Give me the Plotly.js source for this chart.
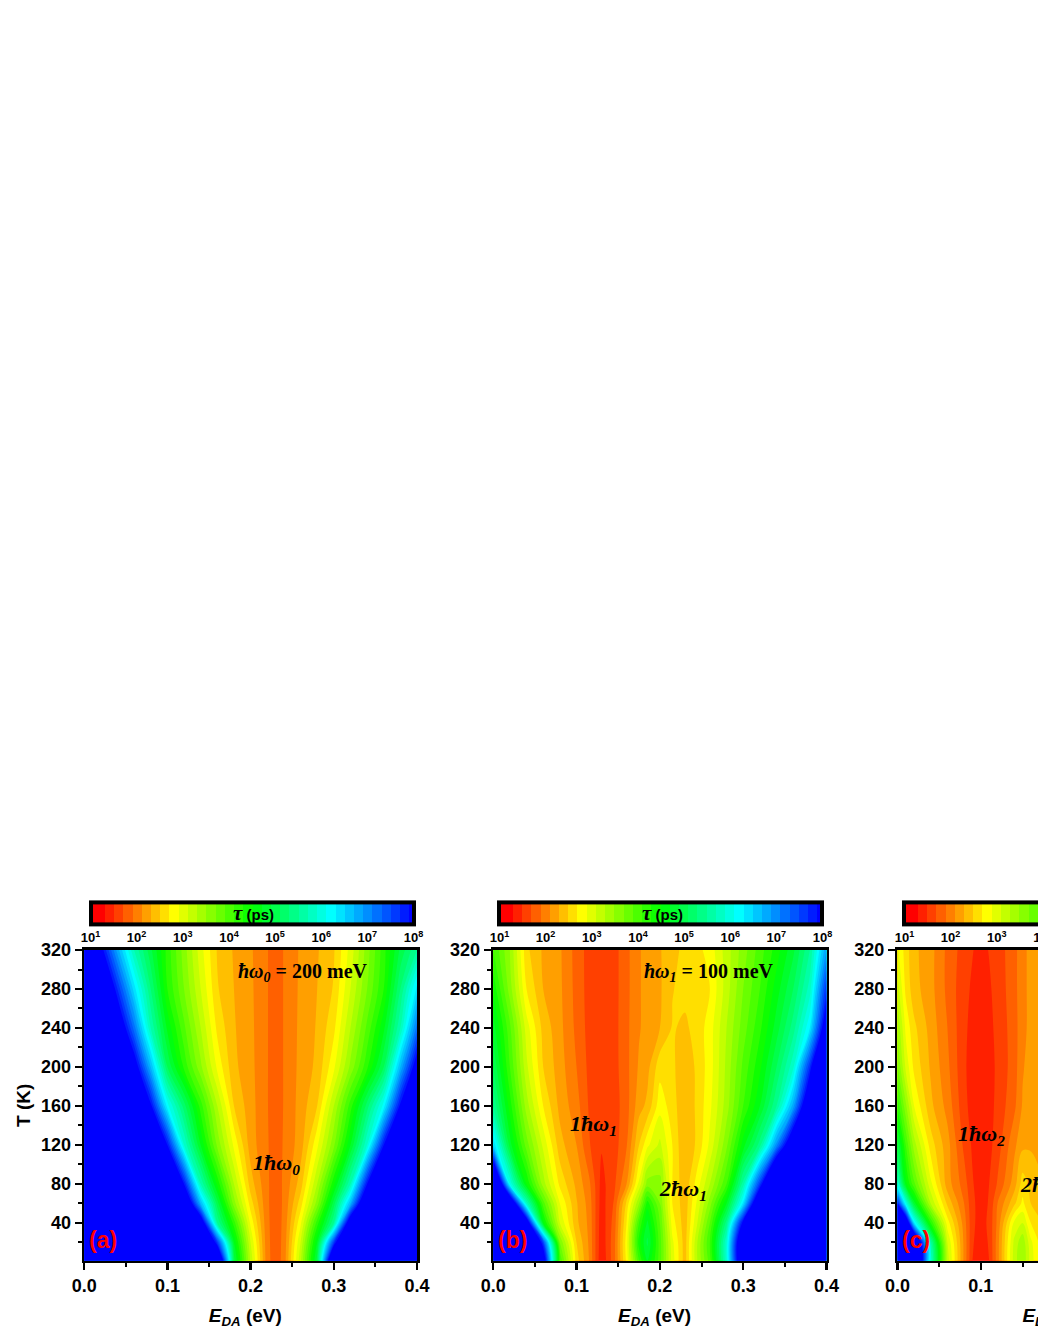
<!DOCTYPE html>
<html><head><meta charset="utf-8">
<script src="https://cdn.plot.ly/plotly-3.0.1.min.js"></script>
<style>html,body{margin:0;padding:0;background:#fff;overflow:hidden;width:1038px;height:1343px}</style>
</head><body><div id="chart"></div>
<script>
// Shared temperature rows (K)
const temps = [1,20,40,60,80,120,160,200,240,280,320];
const levelTicks = [1,2,3,4,5,6,7,8];
const levelLabels = ['10<sup>1</sup>','10<sup>2</sup>','10<sup>3</sup>','10<sup>4</sup>','10<sup>5</sup>','10<sup>6</sup>','10<sup>7</sup>','10<sup>8</sup>'];

// Panel (a): log10(tau/ps)
const energyA = [0,.02,.04,.06,.08,.10,.12,.14,.16,.18,.20,.22,.23,.24,.26,.28,.30,.32,.34,.36,.38,.40];
const logTauA = [
[10,10,10,10,10,10,10,10,9.4,4.9,3.15,1.86,1.7,1.86,3.15,4.9,9.4,10,10,10,10,10],
[10,10,10,10,10,10,10,10,7.5,4.6,3.0,1.85,1.7,1.85,3.0,4.6,7.5,10,10,10,10,10],
[10,10,10,10,10,10,10,8.5,5.4,4.1,2.75,1.84,1.7,1.84,2.75,4.1,5.4,8.5,10,10,10,10],
[10,10,10,10,10,10,9,6.6,4.9,3.5,2.5,1.83,1.7,1.83,2.5,3.5,4.9,6.6,9,10,10,10],
[10,10,10,10,10,9.5,7.8,5.6,4.35,3.2,2.3,1.83,1.7,1.83,2.3,3.2,4.35,5.6,7.8,9.5,10,10],
[10,10,10,10,9.4,7.8,5.8,4.6,3.55,2.75,2.1,1.82,1.7,1.82,2.1,2.75,3.55,4.6,5.8,7.8,9.4,10],
[10,10,10,9.6,7.9,6.1,5.1,4.1,3.2,2.4,2.08,1.81,1.7,1.81,2.08,2.4,3.2,4.1,5.1,6.1,7.9,9.6],
[10,10,10,8.2,6.6,5.0,4.15,3.45,2.75,2.25,2.06,1.81,1.7,1.81,2.06,2.25,2.75,3.45,4.15,5.0,6.6,8.2],
[10,10,8.5,7.1,5.6,4.55,3.85,3.2,2.55,2.22,2.05,1.81,1.7,1.81,2.05,2.22,2.55,3.2,3.85,4.55,5.6,7.1],
[10,9.0,7.6,6.3,5.2,4.2,3.6,3.0,2.42,2.2,2.04,1.81,1.7,1.81,2.04,2.2,2.42,3.0,3.6,4.2,5.2,6.3],
[9.2,8,6.7,5.6,4.85,4.12,3.5,2.88,2.38,2.18,2.03,1.81,1.7,1.81,2.03,2.18,2.38,2.88,3.5,4.12,4.85,5.4]
];

// Panel (b)
const energyB = [0,.02,.04,.06,.08,.10,.115,.13,.145,.16,.175,.185,.20,.215,.23,.245,.26,.28,.30,.32,.34,.36,.38,.40];
const logTauB = [
[10,10,10,8.5,4.0,2.5,2.0,1.22,1.72,2.65,4.0,4.6,3.9,2.9,2.3,3.2,3.9,5.8,9,10,10,10,10,10],
[10,10,10,7.5,3.6,2.4,1.97,1.25,1.72,2.7,4.3,4.85,3.9,2.85,2.3,3.2,4.0,5.8,9,10,10,10,10,10],
[10,10,8.5,4.5,3.0,2.25,1.95,1.27,1.68,2.6,4.0,4.65,3.8,2.7,2.28,3.0,3.8,5.3,8,10,10,10,10,10],
[10,9,5.7,3.9,2.8,2.22,1.92,1.3,1.62,2.45,3.4,4.3,3.6,2.6,2.27,2.85,3.5,4.6,6.25,9,10,10,10,10],
[10,6.0,4.4,3.3,2.55,2.15,1.85,1.33,1.55,2.0,2.85,3.5,3.5,2.6,2.25,2.7,3.2,4.0,5.5,7.5,10,10,10,10],
[6.4,4.7,3.7,2.95,2.28,2.0,1.62,1.42,1.5,1.78,2.4,2.75,3.05,2.6,2.2,2.45,2.85,3.55,4.5,5.3,6.9,8.7,10,10],
[5.4,4.3,3.3,2.6,2.14,1.88,1.58,1.42,1.5,1.72,2.12,2.25,2.72,2.5,2.22,2.45,2.75,3.3,4.0,4.6,5.4,6.7,8.8,10],
[5.0,4.0,3.05,2.4,2.09,1.8,1.55,1.43,1.52,1.74,2.03,2.13,2.52,2.45,2.24,2.45,2.7,3.25,3.85,4.35,5.0,5.75,7.6,10],
[4.7,3.85,2.9,2.33,2.06,1.75,1.53,1.43,1.52,1.75,1.98,2.08,2.2,2.42,2.36,2.48,2.7,3.2,3.7,4.15,4.7,5.3,6.2,8.4],
[4.35,3.5,2.6,2.2,2.04,1.73,1.52,1.44,1.52,1.74,1.98,2.07,2.17,2.39,2.46,2.52,2.6,3.1,3.6,4.0,4.5,5.0,5.7,7.6],
[4.0,3.4,2.45,2.17,2.03,1.72,1.52,1.44,1.52,1.74,1.98,2.07,2.18,2.35,2.44,2.54,2.68,3.1,3.5,3.9,4.3,4.75,5.4,6.8]
];

// Panel (c): only the part inside the picture can be read
const energyC = [0,.01,.02,.04,.06,.08,.09,.10,.11,.12,.14,.15,.16,.18,.20];
const logTauC = [
[10,10,10,5.8,3.1,1.95,1.4,1.3,1.4,1.9,3.1,3.4,2.9,2.3,2.2],
[10,10,9.5,5.5,3.0,1.95,1.42,1.3,1.42,1.9,3.05,3.35,2.85,2.3,2.2],
[10,8.8,6.25,4.2,2.7,1.9,1.45,1.3,1.45,1.85,2.85,3.0,2.6,2.3,2.2],
[7.8,6.0,4.7,3.2,2.35,1.8,1.45,1.3,1.42,1.8,2.35,2.65,2.4,2.25,2.2],
[5.9,4.5,3.85,2.85,2.1,1.7,1.42,1.28,1.4,1.62,2.1,2.5,2.35,2.17,2.18],
[4.95,4.0,3.3,2.5,2.08,1.55,1.37,1.26,1.34,1.5,1.95,2.15,2.17,2.15,2.18],
[4.15,3.45,2.8,2.25,1.93,1.46,1.32,1.26,1.32,1.46,1.75,2.02,2.1,2.15,2.18],
[3.65,2.95,2.55,2.17,1.85,1.43,1.32,1.27,1.32,1.44,1.7,1.98,2.08,2.15,2.18],
[3.4,2.75,2.45,2.12,1.8,1.44,1.34,1.28,1.34,1.46,1.7,1.95,2.05,2.15,2.18],
[3.1,2.55,2.28,2.07,1.75,1.46,1.37,1.3,1.37,1.48,1.72,1.95,2.05,2.15,2.18],
[2.85,2.5,2.25,2.07,1.75,1.5,1.41,1.33,1.41,1.5,1.72,1.95,2.05,2.15,2.18]
];

const W = 1400, H = 1343;
const px = v => v / W, py = v => 1 - v / H;
const levelOffset = 0.1; // contour levels sit at odd tenths so the colour bar spans exactly 10^1 to 10^8
const scale = [[0,'#ff0000'],[1/35,'#ff0000'],[9/35,'#ffff00'],[17.5/35,'#00ff00'],[26/35,'#00ffff'],[1,'#0000ff']];
const panels = [
 {x:energyA, z:logTauA, l:84.2,  r:417, cb:90.5},
 {x:energyB, z:logTauB, l:493.2, r:826.5, cb:499.5},
 {x:energyC, z:logTauC, l:897.4, r:1231, cb:904.5}
];
const sans = '"Liberation Sans", Arial, sans-serif', serif = '"Liberation Serif", "Times New Roman", serif';

const traces = panels.map((p,i)=>({
  type:'contour', x:p.x, y:temps, z:p.z.map(r=>r.map(v=>v+levelOffset)), xaxis:i?'x'+(i+1):'x', yaxis:i?'y'+(i+1):'y',
  autocontour:false, contours:{start:1.1,end:7.9,size:0.2,coloring:'fill',showlines:false},
  line:{width:0}, colorscale:scale, hoverinfo:'skip',
  colorbar:{orientation:'h', x:px(p.cb), xanchor:'left', y:py(948), yanchor:'bottom',
    lenmode:'pixels', len:323, thicknessmode:'pixels', thickness:22, xpad:0, ypad:0,
    outlinewidth:4, outlinecolor:'#000', borderwidth:0,
    tickmode:'array', tickvals:levelTicks, ticktext:levelLabels, ticks:'outside', ticklen:1, tickcolor:'rgba(0,0,0,0)',
    tickfont:{family:sans,size:13,color:'#000',weight:'bold'}}
}));

const tickFont = {family:sans,size:18,color:'#000',weight:'bold'};
const layout = {width:W,height:H,margin:{l:0,r:0,t:0,b:0},paper_bgcolor:'#fff',plot_bgcolor:'#fff',showlegend:false,annotations:[]};
panels.forEach((p,i)=>{
  const s = i? String(i+1):'';
  layout['xaxis'+s]={domain:[px(p.l),px(p.r)],range:[0,0.4],anchor:'y'+s,dtick:0.1,tick0:0,tickformat:'.1f',
    ticks:'outside',ticklen:7,tickwidth:2.5,tickcolor:'#000',showline:true,linewidth:2.6,linecolor:'#000',mirror:true,showgrid:false,zeroline:false,
    minor:{dtick:0.05,tick0:0,ticks:'outside',ticklen:4,tickwidth:2,tickcolor:'#000',showgrid:false},
    tickfont:tickFont,
    title:{text:'<i>E<sub>DA</sub></i> (eV)&#160;&#160;',font:{family:sans,size:19,color:'#000',weight:'bold'},standoff:14}};
  layout['yaxis'+s]={domain:[py(1260.5),py(950)],range:[1.5,320],anchor:'x'+s,dtick:40,tick0:0,
    ticks:'outside',ticklen:7,tickwidth:2.5,tickcolor:'#000',showline:true,linewidth:2.6,linecolor:'#000',mirror:true,showgrid:false,zeroline:false,
    minor:{dtick:20,tick0:0,ticks:'outside',ticklen:4,tickwidth:2,tickcolor:'#000',showgrid:false},
    tickfont:tickFont};
  if(i===0) layout.yaxis.title={text:'T (K)',font:{family:sans,size:19,color:'#000',weight:'bold'},standoff:6};
  layout.annotations.push({xref:'paper',yref:'paper',x:px(p.cb+163),y:py(913),showarrow:false,xanchor:'center',yanchor:'middle',
    text:'<span style="font-family:\'Liberation Serif\';font-style:italic;font-size:21px">τ</span> (ps)',font:{family:sans,size:15,color:'#000',weight:'bold'}});
  layout.annotations.push({xref:'paper',yref:'paper',x:px(p.l+19),y:py(1240),showarrow:false,xanchor:'center',yanchor:'middle',
    text:'('+'abc'[i]+')',font:{family:sans,size:23,color:'#ff0000',weight:'bold'}});
});
const notes = [
 ['<b><i>ħω<sub>0</sub></i> = 200 meV</b>',303,972,20,'center'],
 ['<b><i>1ħω<sub>0</sub></i></b>',276,1164,22,'center'],
 ['<b><i>ħω<sub>1</sub></i> = 100 meV</b>',709,972,20,'center'],
 ['<b><i>1ħω<sub>1</sub></i></b>',593,1125,22,'center'],
 ['<b><i>2ħω<sub>1</sub></i></b>',683,1190,22,'center'],
 ['<b><i>1ħω<sub>2</sub></i></b>',981,1135,22,'center'],
 ['<b><i>2ħω<sub>2</sub></i></b>',1018,1186,22,'left']
];
notes.forEach(n=>layout.annotations.push({xref:'paper',yref:'paper',x:px(n[1]),y:py(n[2]),showarrow:false,xanchor:n[4],yanchor:'middle',
  text:n[0],font:{family:serif,size:n[3],color:'#000'}}));
Plotly.newPlot('chart',traces,layout,{displayModeBar:false,staticPlot:true}).then(()=>{
  // Raise the annotations above the colour bars so the tau label sits on the bar.
  document.querySelectorAll('.infolayer .annotation').forEach(a=>a.parentNode.appendChild(a));
});
</script></body></html>
